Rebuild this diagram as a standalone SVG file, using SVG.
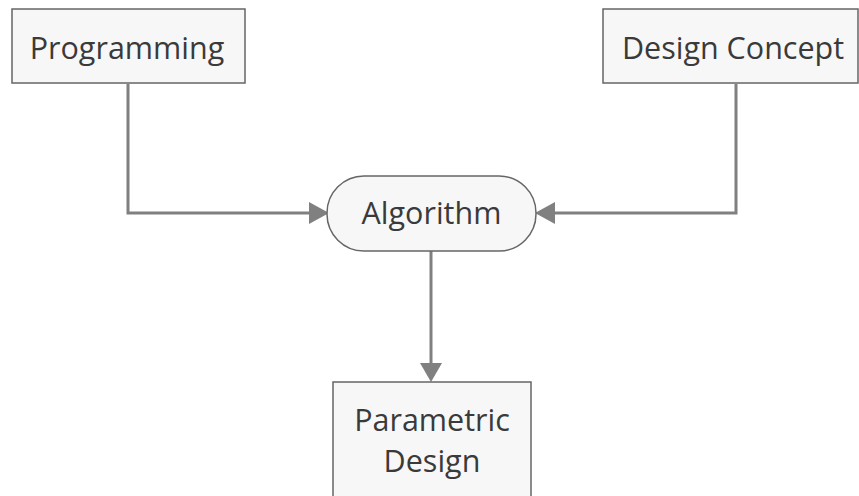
<svg xmlns="http://www.w3.org/2000/svg" width="859" height="496" viewBox="0 0 859 496">
<style>
.box{fill:#f7f7f7;stroke:#666;stroke-width:1.5}
.lbl{font-family:"Open Sans","Noto Sans",sans-serif;font-size:30.5px;fill:#3a3a3a;text-anchor:middle}
.edge{fill:none;stroke:#808080;stroke-width:3}
.head{fill:#808080}
</style>
<rect width="859" height="496" fill="#fff"/>
<g id="connectors">
<path class="edge" d="M128,84 V213 H312"/>
<polygon class="head" points="329,213 309,202 309,224"/>
<path class="edge" d="M736,84 V213 H552"/>
<polygon class="head" points="535,213 555,202 555,224"/>
<path class="edge" d="M431,251 V366"/>
<polygon class="head" points="431,382 420,363 442,363"/>
</g>
<g id="programming">
<rect class="box" x="12" y="9" width="233" height="74"/>
<text class="lbl" x="127" y="59">Programming</text>
</g>
<g id="design-concept">
<rect class="box" x="603" y="9" width="255" height="74"/>
<text class="lbl" x="733" y="59">Design Concept</text>
</g>
<g id="algorithm">
<rect class="box" x="327" y="176" width="209" height="75" rx="37" ry="37"/>
<text class="lbl" x="431.5" y="224">Algorithm</text>
</g>
<g id="parametric-design">
<rect class="box" x="333" y="382" width="198" height="120"/>
<text class="lbl" x="432" y="431">Parametric</text>
<text class="lbl" x="432" y="472">Design</text>
</g>
</svg>
